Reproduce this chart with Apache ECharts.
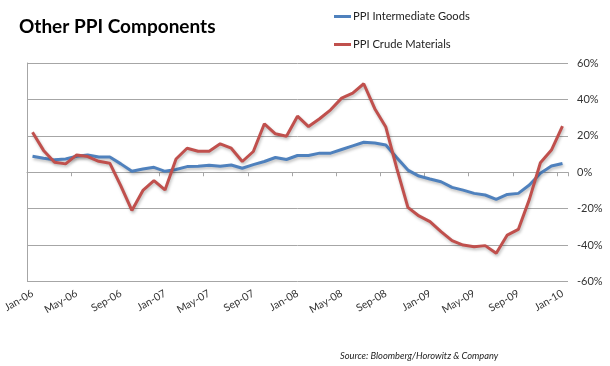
<!DOCTYPE html>
<html>
<head>
<meta charset="utf-8">
<script src="https://cdn.jsdelivr.net/npm/echarts@6/dist/echarts.min.js"></script>
<style>
html,body{margin:0;padding:0;background:#fff;}
#c{width:610px;height:366px;}
</style>
</head>
<body>
<div id="c"></div>
<script>
var months = ["Jan-06","Feb-06","Mar-06","Apr-06","May-06","Jun-06","Jul-06","Aug-06","Sep-06","Oct-06","Nov-06","Dec-06",
"Jan-07","Feb-07","Mar-07","Apr-07","May-07","Jun-07","Jul-07","Aug-07","Sep-07","Oct-07","Nov-07","Dec-07",
"Jan-08","Feb-08","Mar-08","Apr-08","May-08","Jun-08","Jul-08","Aug-08","Sep-08","Oct-08","Nov-08","Dec-08",
"Jan-09","Feb-09","Mar-09","Apr-09","May-09","Jun-09","Jul-09","Aug-09","Sep-09","Oct-09","Nov-09","Dec-09","Jan-10"];

var intermediateGoods = [8.8,7.7,6.8,7.3,8.8,9.5,8.4,8.4,4.6,0.5,1.8,2.7,
0.5,1.5,3.1,3.3,3.8,3.3,4.0,2.2,4.2,5.9,8.1,7.0,
9.2,9.2,10.5,10.5,12.5,14.5,16.5,16.1,15.0,8.0,1.2,-2.1,
-3.7,-5.2,-8.3,-9.8,-11.6,-12.5,-14.9,-12.2,-11.6,-7.0,-0.6,3.4,4.8];

var crudeMaterials = [22,12,5.5,4.6,9.5,8.6,6,5,-7.5,-21,-10,-4.6,
-9.7,7.3,13.2,11.5,11.5,15.6,13.2,5.9,11.4,26.6,21.1,19.8,
30.8,25.1,29.4,34.3,40.7,43.5,48.6,34.9,24.8,2,-19.3,-24,
-27.1,-32.6,-37.6,-40,-40.9,-40.3,-44.5,-34.5,-31.4,-14.9,5.2,12.2,25.3];

var yTicks = {min:-60, max:60, interval:20};

var font = "Lato, 'Open Sans', sans-serif";
var gridColor = "#a6a6a6";

var chart = echarts.init(document.getElementById('c'), null, {renderer:'canvas'});
chart.setOption({
  animation:false,
  backgroundColor:'#fff',
  title:[
    {text:'Other PPI Components', left:14, top:12,
     textStyle:{fontFamily:font, fontSize:19, fontWeight:'bold', color:'#000'}},
    {text:'Source: Bloomberg/Horowitz & Company', left:335, top:346,
     textStyle:{fontFamily:font, fontSize:9.3, fontStyle:'italic', fontWeight:'normal', color:'#222'}}
  ],
  legend:{
    orient:'vertical', left:329, top:6, itemGap:17,
    icon:'rect', itemWidth:17, itemHeight:3,
    textStyle:{fontFamily:font, fontSize:11.2, color:'#222', padding:[0,0,0,-3]},
    data:['PPI Intermediate Goods','PPI Crude Materials']
  },
  grid:{left:25, right:42, top:63, bottom:84.5, containLabel:false},
  xAxis:[
    {type:'category', data:months, boundaryGap:true, position:'bottom',
     axisLine:{onZero:true, onZeroAxisIndex:0, lineStyle:{color:gridColor, width:1}},
     axisTick:{show:true, interval:3, length:4, lineStyle:{color:gridColor}},
     axisLabel:{show:false}, splitLine:{show:false}},
    {type:'category', data:months, boundaryGap:true, position:'bottom',
     axisLine:{show:false, onZero:false}, axisTick:{show:false},
     axisLabel:{show:true, interval:3, rotate:30, margin:11,
       fontFamily:font, fontSize:10.5, color:'#333'},
     splitLine:{show:false}}
  ],
  yAxis:[
    {type:'value', position:'left', min:yTicks.min, max:yTicks.max, interval:yTicks.interval,
     axisLine:{show:true, lineStyle:{color:gridColor}}, axisTick:{show:false},
     axisLabel:{show:false},
     splitLine:{show:true, lineStyle:{color:gridColor, width:1}}},
    {type:'value', position:'right', min:yTicks.min, max:yTicks.max, interval:yTicks.interval,
     axisLine:{show:false}, axisTick:{show:false}, splitLine:{show:false},
     axisLabel:{show:true, margin:9, formatter:'{value}%', fontFamily:font, fontSize:11, color:'#333'}}
  ],
  series:[
    {name:'PPI Intermediate Goods', type:'line', data:intermediateGoods, xAxisIndex:0, yAxisIndex:0,
     symbol:'none', color:'#4f81bd',
     lineStyle:{width:3, color:'#4f81bd', shadowColor:'rgba(0,0,0,0.25)', shadowBlur:3, shadowOffsetX:1, shadowOffsetY:2}},
    {name:'PPI Crude Materials', type:'line', data:crudeMaterials, xAxisIndex:0, yAxisIndex:0,
     symbol:'none', color:'#c0504d',
     lineStyle:{width:3, color:'#c0504d', shadowColor:'rgba(0,0,0,0.25)', shadowBlur:3, shadowOffsetX:1, shadowOffsetY:2}}
  ]
});
</script>
</body>
</html>
